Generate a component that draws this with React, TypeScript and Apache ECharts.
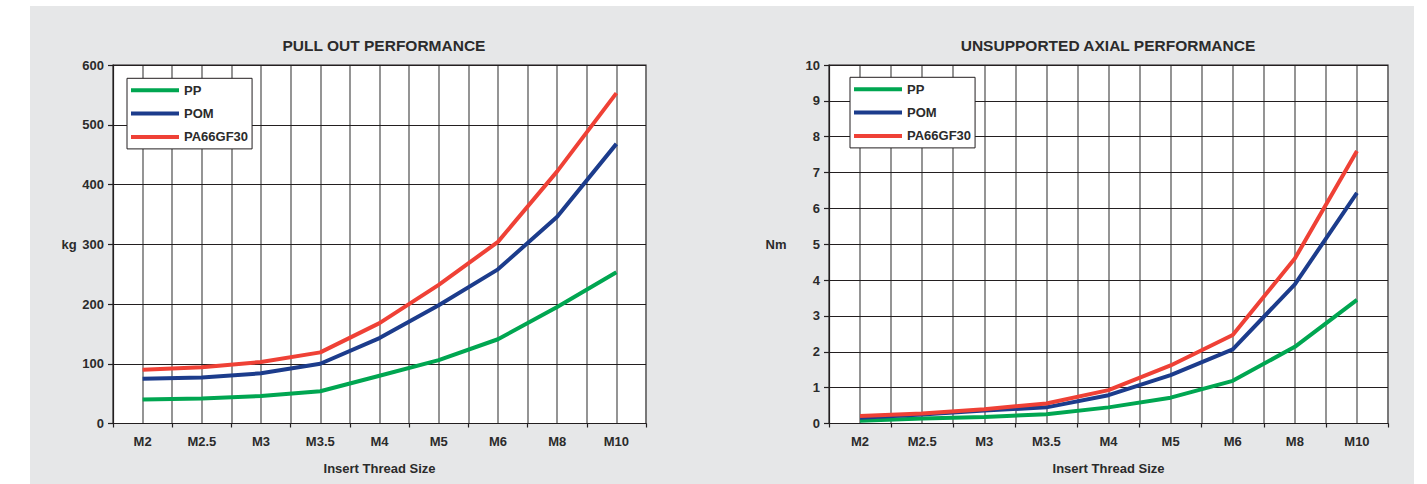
import React, { useEffect, useRef } from "react";
import * as echarts from "echarts";

const categories = ["M2", "M2.5", "M3", "M3.5", "M4", "M5", "M6", "M8", "M10"];
const seriesNames = ["PP", "POM", "PA66GF30"];
const seriesColors = ["#00A651", "#1C3C8C", "#EF4136"];

const pullPP = [40, 42, 46, 54, 80, 106, 141, 195, 253];
const pullPOM = [75, 77, 84, 100, 143, 198, 258, 346, 468];
const pullPA = [90, 94, 103, 119, 168, 232, 304, 422, 553];

const axialPP = [0.08, 0.14, 0.18, 0.26, 0.45, 0.72, 1.19, 2.14, 3.45];
const axialPOM = [0.16, 0.25, 0.36, 0.45, 0.79, 1.35, 2.07, 3.88, 6.43];
const axialPA = [0.21, 0.28, 0.4, 0.56, 0.93, 1.62, 2.47, 4.6, 7.6];

const titles = ["PULL OUT PERFORMANCE", "UNSUPPORTED AXIAL PERFORMANCE"];
const yUnits = ["kg", "Nm"];
const xName = "Insert Thread Size";

const FONT = "'Liberation Sans', Arial, Helvetica, sans-serif";
const TEXT = "#2b2b2b";
const halfSlots = categories.flatMap((c) => [c + "a", c + "b"]);

export default function App() {
  const ref = useRef<HTMLDivElement>(null);

  useEffect(() => {
    if (!ref.current) return;
    const chart = echarts.init(ref.current, undefined, { renderer: "svg" });

    const grids = [
      { left: 113, top: 65, width: 533, height: 358.5 },
      { left: 829, top: 65, width: 559, height: 358.5 },
    ];

    const labelStyle = { fontFamily: FONT, fontWeight: "bold" as const, fontSize: 13, color: TEXT };

    const xAxes: any[] = [];
    const yAxes: any[] = [];
    grids.forEach((_, gi) => {
      xAxes.push({
        type: "category",
        gridIndex: gi,
        data: categories,
        boundaryGap: true,
        position: "bottom",
        name: xName,
        nameLocation: "middle",
        nameGap: 38,
        nameTextStyle: { ...labelStyle },
        axisLine: { show: true, lineStyle: { color: "#231F20", width: 1.2 } },
        axisTick: { show: true, length: 4, interval: 0, lineStyle: { color: "#231F20", width: 1.2 } },
        axisLabel: { ...labelStyle, interval: 0, margin: 11 },
        splitLine: { show: false },
        z: 5,
      });
      xAxes.push({
        type: "category",
        gridIndex: gi,
        data: halfSlots,
        boundaryGap: true,
        position: "bottom",
        axisLine: { show: false },
        axisTick: { show: false },
        axisLabel: { show: false },
        splitLine: { show: true, interval: 0, lineStyle: { color: "#7a7a7a", width: 1.6 } },
        z: 1,
      });
      yAxes.push({
        type: "value",
        gridIndex: gi,
        min: 0,
        max: gi === 0 ? 600 : 10,
        interval: gi === 0 ? 100 : 1,
        axisLine: { show: true, lineStyle: { color: "#231F20", width: 1.2 } },
        axisTick: { show: true, length: 5, lineStyle: { color: "#231F20", width: 1.2 } },
        axisLabel: { ...labelStyle, margin: 9 },
        splitLine: { show: true, lineStyle: { color: "#231F20", width: 1 } },
        z: 4,
      });
    });

    const pullData = [pullPP, pullPOM, pullPA];
    const axialData = [axialPP, axialPOM, axialPA];
    const series: any[] = [];
    [pullData, axialData].forEach((set, gi) => {
      set.forEach((vals, si) => {
        series.push({
          type: "line",
          name: seriesNames[si],
          xAxisIndex: gi * 2,
          yAxisIndex: gi,
          data: vals,
          symbol: "none",
          color: seriesColors[si],
          lineStyle: { width: 4, color: seriesColors[si] },
          itemStyle: { color: seriesColors[si] },
          z: 10,
        });
      });
    });

    const legends = [
      { left: 127, top: 78.3 },
      { left: 850, top: 77.3 },
    ].map((p) => ({
      ...p,
      orient: "vertical",
      data: seriesNames,
      icon: "rect",
      itemWidth: 48,
      itemHeight: 4,
      itemGap: 7.3,
      itemTextGap: 2,
      padding: [4, 4, 4, 4],
      backgroundColor: "#ffffff",
      borderColor: "#231F20",
      borderWidth: 1,
      selectedMode: false,
      textStyle: { fontFamily: FONT, fontWeight: "bold", fontSize: 13, color: TEXT, lineHeight: 16 },
      z: 20,
    }));

    const titleX = [384, 1108];
    const unitX = [69, 776];

    chart.setOption({
      animation: false,
      backgroundColor: "#ffffff",
      grid: grids.map((g) => ({
        ...g,
        show: true,
        backgroundColor: "#ffffff",
        borderColor: "#231F20",
        borderWidth: 1.2,
        containLabel: false,
      })),
      xAxis: xAxes,
      yAxis: yAxes,
      legend: legends,
      series,
      graphic: [
        {
          type: "rect",
          shape: { x: 30, y: 6, width: 1384, height: 478 },
          style: { fill: "#E6E7E8" },
          z: -10,
          silent: true,
        },
        ...titles.map((t, i) => ({
          type: "text",
          style: {
            x: titleX[i],
            y: 45.5,
            text: t,
            fill: TEXT,
            font: `bold 15.5px ${FONT}`,
            textAlign: "center",
            textVerticalAlign: "middle",
          },
          z: 30,
        })),
        ...yUnits.map((u, i) => ({
          type: "text",
          style: {
            x: unitX[i],
            y: 244,
            text: u,
            fill: TEXT,
            font: `bold 13px ${FONT}`,
            textAlign: "center",
            textVerticalAlign: "middle",
          },
          z: 30,
        })),
      ],
    });

    return () => chart.dispose();
  }, []);

  return (
    <div
      ref={ref}
      style={{ position: "fixed", left: 0, top: 0, width: 1427, height: 484 }}
    />
  );
}
